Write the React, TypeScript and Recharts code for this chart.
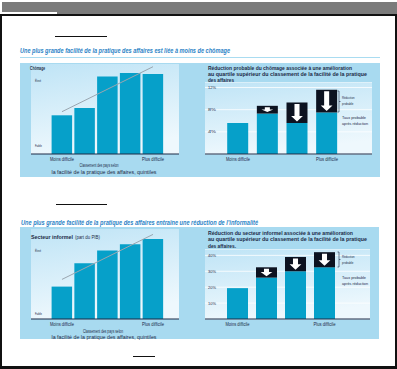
import { Bar, BarChart, CartesianGrid, ReferenceLine, XAxis, YAxis } from "recharts";

const quintiles = ["Q1", "Q2", "Q3", "Q4", "Q5"];
const chomageIndex = [43, 51, 86, 90, 89];
const chomageTrend = [47, 97];
const informelIndex = [36, 62, 76, 83, 89];
const informelTrend = [44, 94];

const groups = ["G1", "G2", "G3", "G4"];
const chomageAfter = [5.6, 7.3, 5.6, 7.5];
const chomageCut = [0, 1.4, 3.7, 4.1];
const chomageTicks = [4, 8, 12];
const informelAfter = [19.4, 26, 30, 32.5];
const informelCut = [0, 6.5, 9, 9.5];
const informelTicks = [10, 20, 30, 40];

const NAVY = "#1c2a47";
const CYAN = "#06a0c9";
const FONT = "'Liberation Sans', Arial, sans-serif";

const quintData = (vals: number[]) => quintiles.map((q, i) => ({ q, v: vals[i] }));
const groupData = (after: number[], cut: number[]) =>
  groups.map((g, i) => ({ g, after: after[i], cut: cut[i] }));

function Txt({ x, y, s = 4.5, w, sx = 0.8, b, i, a = "start", c = NAVY, children }: any) {
  if (w) {
    return (
      <text x={x} y={y} fontSize={s} fontWeight={b ? 700 : 400} fontStyle={i ? "italic" : "normal"}
        textAnchor={a} dominantBaseline="central" fill={c} fontFamily={FONT}
        textLength={w} lengthAdjust="spacingAndGlyphs">{children}</text>
    );
  }
  return (
    <text transform={`translate(${x},${y}) scale(${sx},1)`} fontSize={s} fontWeight={b ? 700 : 400}
      fontStyle={i ? "italic" : "normal"} textAnchor={a} dominantBaseline="central" fill={c} fontFamily={FONT}>
      {children}
    </text>
  );
}

const edgeWidths: Record<string, number> = { "Moins difficile": 24, "Plus difficile": 22 };

function XTick(props: any) {
  const { x, y, payload, cats } = props;
  const idx = cats.indexOf(payload.value);
  const label = idx === 0 ? "Moins difficile" : idx === cats.length - 1 ? "Plus difficile" : "";
  if (!label) return null;
  return <Txt x={x} y={y + 5.5} s={4.6} w={edgeWidths[label]} a="middle">{label}</Txt>;
}

function YTick(props: any) {
  const { x, y, payload } = props;
  return <Txt x={x} y={y} s={4.3} w={8}>{`${payload.value}%`}</Txt>;
}

function ArrowBar(props: any) {
  const { x, y, width, height } = props;
  if (!height || height <= 0) return null;
  const cx = x + width / 2;
  const top = y + 1.5;
  const bottom = y + height - 1.5;
  const avail = bottom - top;
  const headH = Math.min(5.5, avail * 0.55);
  const headW = width * 0.56;
  const stemW = width * 0.24;
  const hy = bottom - headH;
  const d = `M${cx - stemW / 2},${top} L${cx + stemW / 2},${top} L${cx + stemW / 2},${hy} L${cx + headW / 2},${hy} L${cx},${bottom} L${cx - headW / 2},${hy} L${cx - stemW / 2},${hy} Z`;
  return (
    <g>
      <rect x={x} y={y} width={width} height={height} fill="#0c1220" />
      <path d={d} fill="#ffffff" />
    </g>
  );
}

function Grad({ id }: { id: string }) {
  return (
    <defs>
      <linearGradient id={id} x1="0" y1="0" x2="0.25" y2="1">
        <stop offset="0%" stopColor="#bfe4f6" />
        <stop offset="100%" stopColor="#eef8fd" />
      </linearGradient>
    </defs>
  );
}

function IndexChart({ id, vals, trend, left, top }: any) {
  return (
    <div style={{ position: "absolute", left, top }}>
      <BarChart width={148} height={100} data={quintData(vals)} margin={{ top: 0, right: 0, bottom: 0, left: 0 }}>
        <Grad id={id} />
        <CartesianGrid horizontal={false} vertical={false} fill={`url(#${id})`} />
        <XAxis dataKey="q" height={10} padding={{ left: 19.6, right: 14.6 }} tickLine={false} tickSize={0} tickMargin={0}
          axisLine={{ stroke: NAVY, strokeWidth: 1.2 }} interval={0}
          tick={(p: any) => <XTick {...p} cats={quintiles} />} />
        <YAxis hide domain={[0, 100]} />
        <Bar dataKey="v" fill={CYAN} barSize={20.5} isAnimationActive={false} />
        <ReferenceLine segment={[{ x: quintiles[0], y: trend[0] }, { x: quintiles[4], y: trend[1] }]}
          stroke="#9aa6b0" strokeWidth={1} ifOverflow="visible" />
      </BarChart>
    </div>
  );
}

function CutChart({ id, after, cut, ticks, max, left, top, width, height, pad }: any) {
  return (
    <div style={{ position: "absolute", left, top }}>
      <BarChart width={width} height={height} data={groupData(after, cut)} margin={{ top: 0, right: 0, bottom: 0, left: 0 }}>
        <Grad id={id} />
        <CartesianGrid vertical={false} stroke="#ffffff" strokeWidth={0.8} fill={`url(#${id})`} />
        <XAxis dataKey="g" height={10} padding={pad} tickLine={false} tickSize={0} tickMargin={0}
          axisLine={{ stroke: NAVY, strokeWidth: 1.2 }} interval={0}
          tick={(p: any) => <XTick {...p} cats={groups} />} />
        <YAxis mirror domain={[0, max]} ticks={ticks} interval={0} axisLine={false} tickLine={false} tickSize={0} tickMargin={3}
          tick={(p: any) => <YTick {...p} />} />
        <Bar dataKey="after" stackId="s" fill={CYAN} barSize={21} isAnimationActive={false} />
        <Bar dataKey="cut" stackId="s" fill="#0c1220" barSize={21} shape={(p: any) => <ArrowBar {...p} />} isAnimationActive={false} />
      </BarChart>
    </div>
  );
}

function Legend({ y0, y1, ty }: { y0: number; y1: number; ty: number[] }) {
  const m = (y0 + y1) / 2;
  return (
    <g>
      <path d={`M337.5,${y0} L339,${y0} L339,${y1} L337.5,${y1} M339,${m} L340.5,${m}`} stroke={NAVY} strokeWidth={0.6} fill="none" />
      <Txt x={342} y={ty[0]} s={4.3} w={12.5}>Réduction</Txt>
      <Txt x={342} y={ty[1]} s={4.3} w={11.5}>probable</Txt>
      <Txt x={342} y={ty[2]} s={4.3} w={24}>Taux probable</Txt>
      <Txt x={342} y={ty[3]} s={4.3} w={26}>après réduction</Txt>
    </g>
  );
}

export default function App() {
  return (
    <div style={{ position: "absolute", left: 0, top: 0, width: 397, height: 369, background: "#fff", overflow: "hidden", fontFamily: FONT }}>
      {/* frame */}
      <div style={{ position: "absolute", left: 2, top: 2, width: 395, height: 12, background: "#7b7b7b" }} />
      <div style={{ position: "absolute", left: 2, top: 12, width: 55, height: 2, background: "#ffffff" }} />
      <div style={{ position: "absolute", left: 0, top: 14, width: 397, height: 1.5, background: "#111" }} />
      <div style={{ position: "absolute", left: 0, top: 14, width: 2, height: 355, background: "#111" }} />
      <div style={{ position: "absolute", left: 395, top: 14, width: 2, height: 355, background: "#111" }} />
      <div style={{ position: "absolute", left: 0, top: 366, width: 397, height: 3, background: "#111" }} />
      <div style={{ position: "absolute", left: 55, top: 36, width: 52, height: 1, background: "#111" }} />
      <div style={{ position: "absolute", left: 56, top: 204, width: 51, height: 1, background: "#111" }} />
      <div style={{ position: "absolute", left: 133, top: 356, width: 22, height: 1, background: "#111" }} />
      <div style={{ position: "absolute", left: 20, top: 56.5, width: 360, height: 1.5, background: "#a9dcf1" }} />
      {/* panels */}
      <div style={{ position: "absolute", left: 20, top: 63, width: 360, height: 114, background: "#a8daf0" }} />
      <div style={{ position: "absolute", left: 20, top: 227, width: 359, height: 112, background: "#a8daf0" }} />

      <IndexChart id="gA" vals={chomageIndex} trend={chomageTrend} left={31} top={64} />
      <CutChart id="gB" after={chomageAfter} cut={chomageCut} ticks={chomageTicks} max={13}
        left={205} top={82} width={167} height={82} pad={{ left: 18.2, right: 30.2 }} />
      <IndexChart id="gC" vals={informelIndex} trend={informelTrend} left={31} top={229} />
      <CutChart id="gD" after={informelAfter} cut={informelCut} ticks={informelTicks} max={44}
        left={205} top={249} width={165} height={80} pad={{ left: 18, right: 31 }} />

      <svg width={397} height={369} style={{ position: "absolute", left: 0, top: 0, pointerEvents: "none" }}>
        <Txt x={20} y={50} s={7} w={210} i b c="#2c83c6">Une plus grande facilité de la pratique des affaires est liée à moins de chômage</Txt>
        <Txt x={30} y={68} s={5} w={15} b>Chômage</Txt>
        <Txt x={35} y={81} s={3.8} w={6}>Élevé</Txt>
        <Txt x={35} y={146} s={3.8} w={7}>Faible</Txt>
        <Txt x={99} y={165.5} s={4.8} w={39} a="middle">Classement des pays selon</Txt>
        <Txt x={104} y={172} s={4.8} w={105} a="middle">la facilité de la pratique des affaires, quintiles</Txt>
        <Txt x={208} y={68} s={5.3} w={144} b>Réduction probable du chômage associée à une amélioration</Txt>
        <Txt x={208} y={74} s={5.3} w={159} b>au quartile supérieur du classement de la facilité de la pratique</Txt>
        <Txt x={208} y={80} s={5.3} w={26} b>des affaires</Txt>
        <Legend y0={91} y1={112} ty={[97.5, 103, 117.5, 123]} />

        <Txt x={21} y={222} s={7} w={237} i b c="#2c83c6">Une plus grande facilité de la pratique des affaires entraîne une réduction de l’informalité</Txt>
        <Txt x={31} y={237} s={5} w={42} b>Secteur informel</Txt>
        <Txt x={75} y={237} s={4.5} w={25}>(part du PIB)</Txt>
        <Txt x={35} y={251} s={3.8} w={6}>Élevé</Txt>
        <Txt x={35} y={314} s={3.8} w={7}>Faible</Txt>
        <Txt x={103} y={331} s={4.8} w={40} a="middle">Classement des pays selon</Txt>
        <Txt x={104} y={337} s={4.8} w={105} a="middle">la facilité de la pratique des affaires, quintiles</Txt>
        <Txt x={208} y={233} s={5.3} w={145} b>Réduction du secteur informel associée à une amélioration</Txt>
        <Txt x={208} y={239} s={5.3} w={159} b>au quartile supérieur du classement de la facilité de la pratique</Txt>
        <Txt x={208} y={245.5} s={5.3} w={28} b>des affaires.</Txt>
        <Legend y0={252} y1={267} ty={[256.5, 262.5, 277, 283]} />
      </svg>
    </div>
  );
}
